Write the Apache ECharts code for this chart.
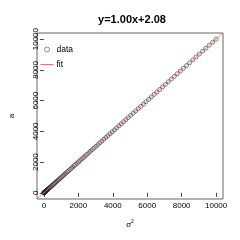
<!DOCTYPE html>
<html><head><meta charset="utf-8">
<script src="https://cdn.jsdelivr.net/npm/echarts@6/dist/echarts.min.js"></script>
<style>html,body{margin:0;padding:0;background:#fff}#c{width:240px;height:240px}</style>
</head><body><div id="c"></div>
<script>
const sigma2 = [0,1,4,9,16,25,36,49,64,81,100,121,144,169,196,225,256,289,324,361,400,441,484,529,576,625,676,729,784,841,900,961,1024,1089,1156,1225,1296,1369,1444,1521,1600,1681,1764,1849,1936,2025,2116,2209,2304,2401,2500,2601,2704,2809,2916,3025,3136,3249,3364,3481,3600,3721,3844,3969,4096,4225,4356,4489,4624,4761,4900,5041,5184,5329,5476,5625,5776,5929,6084,6241,6400,6561,6724,6889,7056,7225,7396,7569,7744,7921,8100,8281,8464,8649,8836,9025,9216,9409,9604,9801,10000];
const aVals = [2,3,6,11,18,27,38,51,66,83,102,123,146,171,198,227,258,291,326,363,402,443,486,531,578,627,678,731,786,843,902,963,1026,1091,1158,1227,1298,1371,1446,1523,1602,1683,1766,1851,1938,2027,2118,2211,2306,2403,2502,2603,2706,2811,2918,3027,3138,3251,3366,3483,3602,3723,3846,3971,4098,4227,4358,4491,4626,4763,4902,5043,5186,5331,5478,5627,5778,5931,6086,6243,6402,6563,6726,6891,7058,7227,7398,7571,7746,7923,8102,8283,8466,8651,8838,9027,9218,9411,9606,9803,10002];
const slope = 1.00, intercept = 2.08;
const fitX = [-400, 10400];
const xTicks = [0,2000,4000,6000,8000,10000];
const yTicks = [0,2000,4000,6000,8000,10000];
const titleText = 'y=1.00x+2.08';

const pts = sigma2.map((x,i)=>[x,aVals[i]]);
const fitPts = fitX.map(x=>[x, slope*x+intercept]);
const FONT = 'Liberation Sans';
const plain = v => String(v);
const chart = echarts.init(document.getElementById('c'), null, {renderer:'canvas'});
chart.setOption({
  animation:false,
  title:{text:titleText,left:127,top:9,textAlign:'center',textStyle:{fontFamily:FONT,fontWeight:'bold',fontSize:11,color:'#000'}},
  legend:{left:35,top:40,orient:'vertical',itemGap:6,itemWidth:13,itemHeight:5,
    textStyle:{fontFamily:FONT,fontSize:8.5,color:'#000',padding:[0,0,0,-2]},
    data:[{name:'data',icon:'circle',itemStyle:{color:'#fff',borderColor:'#333',borderWidth:0.7}},
          {name:'fit',itemStyle:{opacity:0},lineStyle:{color:'#ee7070',width:1}}]},
  grid:{left:32,right:17,top:33,bottom:41,show:true,borderColor:'#666',borderWidth:1,backgroundColor:'transparent'},
  xAxis:{type:'value',min:-400,max:10400,
    name:'{s|σ}{p|2}',nameLocation:'middle',nameGap:20,
    nameTextStyle:{rich:{s:{fontFamily:FONT,fontSize:8,color:'#000'},p:{fontFamily:FONT,fontSize:5,color:'#000',verticalAlign:'top',padding:[0,0,6,0]}}},
    axisLine:{show:false},splitLine:{show:false},
    axisTick:{show:true,length:4,customValues:xTicks,lineStyle:{color:'#444'}},
    axisLabel:{customValues:xTicks,formatter:plain,margin:3,fontFamily:FONT,fontSize:8,color:'#000'}},
  yAxis:{type:'value',min:-400,max:10400,
    name:'a',nameLocation:'middle',nameGap:21,nameRotate:90,
    nameTextStyle:{fontFamily:FONT,fontSize:8,color:'#000'},
    axisLine:{show:false},splitLine:{show:false},
    axisTick:{show:true,length:4,customValues:yTicks,lineStyle:{color:'#444'}},
    axisLabel:{customValues:yTicks,formatter:plain,rotate:90,margin:-3,fontFamily:FONT,fontSize:8,color:'#000'}},
  series:[
    {name:'data',type:'scatter',data:pts,symbol:'circle',symbolSize:4,
      itemStyle:{color:'transparent',borderColor:'#222',borderWidth:0.7}},
    {name:'fit',type:'line',data:fitPts,showSymbol:false,symbol:'none',clip:true,
      lineStyle:{color:'#ee7070',width:0.8},itemStyle:{color:'#ee7070'}}
  ]
});
</script></body></html>
